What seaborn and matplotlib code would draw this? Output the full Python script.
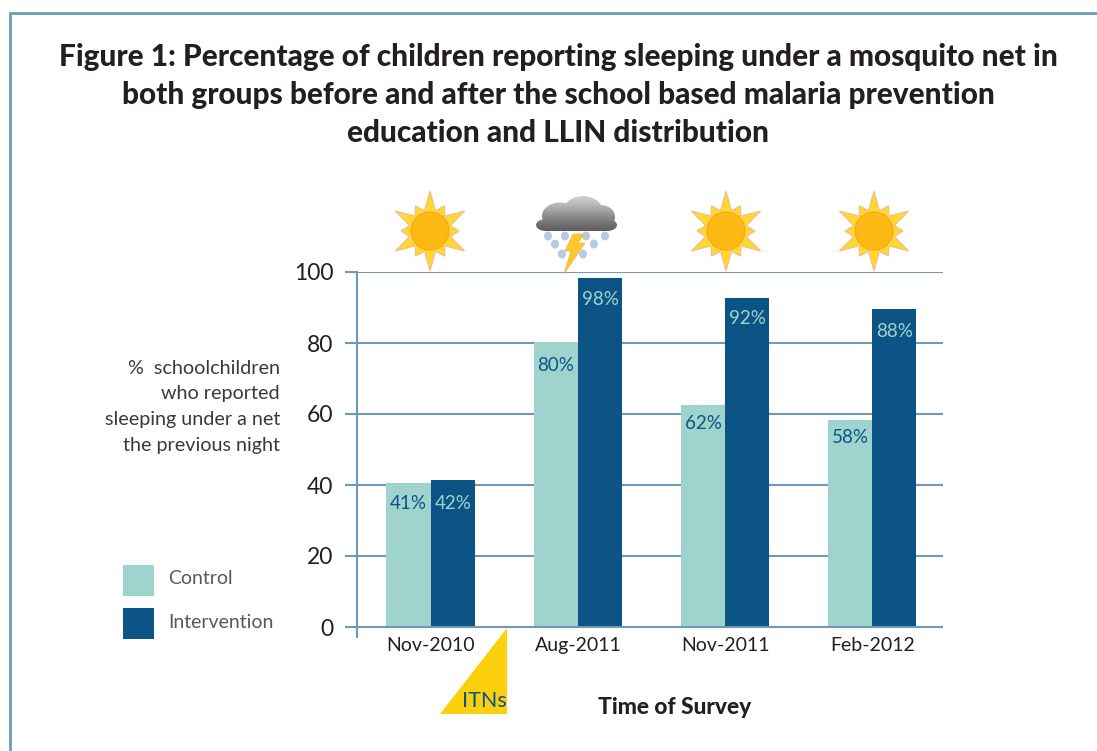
import numpy as np
import pandas as pd
import seaborn as sns
import matplotlib.pyplot as plt
from matplotlib.patches import Rectangle, Polygon, Circle, Ellipse

# Data
surveys = ["Nov-2010", "Aug-2011", "Nov-2011", "Feb-2012"]
control = [40.5, 80.3, 62.5, 58.3]
intervention = [41.5, 98.3, 92.7, 89.7]
control_labels = ["41%", "80%", "62%", "58%"]
intervention_labels = ["42%", "98%", "92%", "88%"]
y_ticks = [0, 20, 40, 60, 80, 100]
title_lines = ["Figure 1: Percentage of children reporting sleeping under a mosquito net in",
               "both groups before and after the school based malaria prevention",
               "education and LLIN distribution"]
ylabel_lines = ["%  schoolchildren", "who reported", "sleeping under a net", "the previous night"]

# how far each value label sits below its bar top, in pixels
control_drop = [20, 24, 18, 17]
intervention_drop = [24, 21, 21, 23]

TEAL = "#9fd3cd"
NAVY = "#0c5486"
RULE = "#6f9ab5"
INK = "#231f20"
W, H = 1097, 751

sns.set_theme(style="white")
plt.rcParams['font.family'] = ['Lato', 'DejaVu Sans']

df = pd.DataFrame({"survey": surveys * 2,
                   "group": ["Control"] * 4 + ["Intervention"] * 4,
                   "value": control + intervention})

fig = plt.figure(figsize=(W / 100, H / 100), dpi=100, facecolor="white")
ax = fig.add_axes([357 / W, 1 - 637 / H, 586 / W, 365 / H])

sns.barplot(data=df, x="survey", y="value", hue="group", hue_order=["Control", "Intervention"],
            palette=[TEAL, NAVY], width=0.6, gap=0, saturation=1, legend=False, ax=ax,
            zorder=3, linewidth=0, edgecolor="none")
ax.set_xlim(-0.5, 3.48)
ax.set_ylim(-10 / 3.55, 100)
ax.set_xlabel("")
ax.set_ylabel("")
ax.set_yticks(y_ticks)
ax.set_yticklabels([str(t) for t in y_ticks], fontsize=16.5, color=INK)
ax.tick_params(axis="y", length=9, width=1.5, color=RULE, pad=8, left=True)
ax.tick_params(axis="x", length=0, pad=0, labelsize=14, labelcolor=INK)
for t in y_ticks:
    ax.axhline(t, color=RULE, lw=1.5, zorder=2 if t else 4)
for side in ["top", "right", "bottom"]:
    ax.spines[side].set_visible(False)
ax.spines["left"].set_color(RULE)
ax.spines["left"].set_linewidth(1.5)

# value labels inside the bar tops
for i in range(4):
    ax.text(i - 0.15, control[i] - control_drop[i] / 3.55, control_labels[i], ha="center", va="center",
            color=NAVY, fontsize=13.5, zorder=5)
    ax.text(i + 0.15, intervention[i] - intervention_drop[i] / 3.55, intervention_labels[i], ha="center",
            va="center", color=TEAL, fontsize=13.5, zorder=5)

# overlay in pixel coordinates for everything outside the plot
ov = fig.add_axes([0, 0, 1, 1], zorder=10)
ov.axis("off")
ov.patch.set_alpha(0)

ov.plot([10, 10, W], [H, 13, 13], color=RULE, lw=2, solid_joinstyle="miter")

for y, line in zip([57, 95, 133], title_lines):
    ov.text(558, y, line, ha="center", va="center", fontsize=21.4, fontweight=900, color=INK)
for y, line in zip([369, 394, 420, 445], ylabel_lines):
    ov.text(280, y, line, ha="right", va="center", fontsize=14.2, color="#3a3a3c")

# legend
for y, c, name, ty in [(565, TEAL, "Control", 579), (608, NAVY, "Intervention", 623)]:
    ov.add_patch(Rectangle((123, y), 31, 31, color=c, lw=0))
    ov.text(168, ty, name, va="center", fontsize=14, color="#58585a")

# ITN marker and x axis title
ov.add_patch(Polygon([(507, 628), (440, 714), (507, 714)], color="#fdd00e", lw=0))
ov.text(507, 701, "ITNs", ha="right", va="center", fontsize=15.5, color=NAVY)
ov.text(675, 708, "Time of Survey", ha="center", va="center", fontsize=16.4, fontweight=900, color=INK)


def sun(cx, cy):
    ang = np.linspace(0, 2 * np.pi, 24, endpoint=False) - np.pi / 2
    rad = np.tile([40, 21, 29, 21], 6)
    ov.add_patch(Polygon(np.c_[cx + rad * np.cos(ang), cy + rad * np.sin(ang)],
                         facecolor="#fdd835", edgecolor="#f7b98a", lw=0.8))
    ov.add_patch(Circle((cx, cy), 19, facecolor="#fdb913", edgecolor="#f9a51a", lw=0.8))


for cx in [430, 726, 874]:
    sun(cx, 231)

# storm cloud, every lobe clipped over the same grey gradient
grad = np.linspace(0, 1, 64).reshape(-1, 1)
cloud = [Ellipse((560, 216), 36, 27), Ellipse((583, 212), 40, 32), Ellipse((601, 217), 28, 24),
         Ellipse((546, 225), 20, 12), Ellipse((607, 225), 20, 12), Rectangle((546, 219), 61, 12)]
for part in cloud:
    part.set(fc="none", lw=0)
    ov.add_patch(part)
    im = ov.imshow(grad, extent=(530, 625, 232, 195), cmap="Greys", vmin=-0.6, vmax=1.6,
                   aspect="auto", interpolation="bilinear")
    im.set_clip_path(part)

for x, y in [(548, 236), (565, 236), (586, 236), (605, 236), (555, 244), (594, 244), (562, 254), (583, 254)]:
    ov.add_patch(Ellipse((x, y), 8, 9, fc="#b8c9e4", ec="none"))
ov.add_patch(Polygon([(573, 234), (584, 234), (578, 243), (585, 243), (564, 274),
                      (571, 251), (565, 251)], fc="#fdc82f", ec="#f9b233", lw=0.5))

ov.set_xlim(0, W)
ov.set_ylim(H, 0)

fig.savefig("out.png", dpi=100, facecolor="white")
